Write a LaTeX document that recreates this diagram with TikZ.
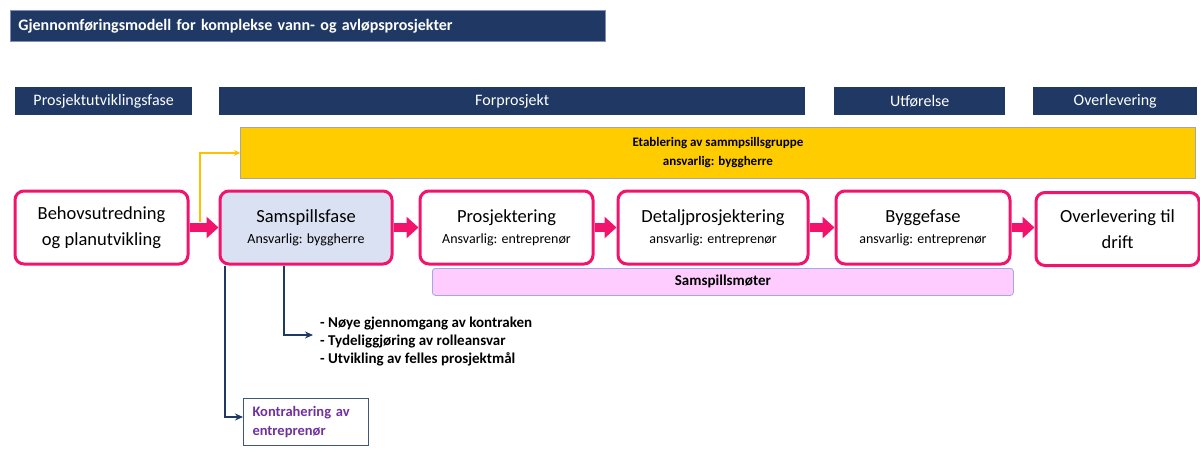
\documentclass[tikz,border=0pt]{standalone}
\usepackage{fontspec}
\setmainfont{Carlito}
\usetikzlibrary{arrows.meta,calc}
\definecolor{navy}{HTML}{203864}
\definecolor{navyedge}{HTML}{7F8FB8}
\definecolor{pinkc}{HTML}{F2146C}
\definecolor{lightblue}{HTML}{DAE1F3}
\definecolor{yellowc}{HTML}{FFCC00}
\definecolor{yellowline}{HTML}{FFC000}
\definecolor{meetfill}{HTML}{FFCCFF}
\definecolor{meetedge}{HTML}{A3A8E0}
\definecolor{purplet}{HTML}{7030A0}
\newcommand{\subtxt}{\fontsize{14}{16}\selectfont}
\begin{document}
\begin{tikzpicture}[x=1pt,y=-1pt,
  phase/.style={fill=navy, text=white, inner sep=0pt, minimum height=28pt, anchor=north west, font=\fontsize{16}{18}\selectfont},
  stepbox/.style={draw=pinkc, line width=3pt, rounded corners=9pt, fill=white, inner sep=0pt, minimum height=73pt, align=center, anchor=north west},
  twoline/.style={font=\fontsize{18.5}{26}\selectfont},
  titled/.style={font=\fontsize{18.5}{21}\selectfont},
  parrow/.style={draw=pinkc, line width=9pt, -{Triangle[width=21pt,length=12pt]}},
  narrow/.style={draw=navy, line width=2pt, -{Stealth[length=8pt,width=7pt]}},
  yarrow/.style={draw=yellowline, line width=1.5pt, -{Stealth[length=6pt,width=6pt]}}
]
\useasboundingbox (0,0) rectangle (1200,448);

% title
\node[fill=navy, draw=navyedge, line width=0.8pt, text=white, anchor=north west, minimum height=31pt,
      text width=579pt, inner xsep=8pt, inner ysep=0pt, align=left,
      font=\bfseries\fontsize{16}{18}\selectfont] (title) at (10,10)
  {Gjennomføringsmodell for komplekse vann- og avløpsprosjekter};

% phase headers
\node[phase, minimum width=177pt] (h1) at (15,87) {Prosjektutviklingsfase};
\node[phase, minimum width=586pt] (h2) at (219,87) {Forprosjekt};
\node[phase, minimum width=171pt] (h3) at (834,87) {Utførelse};
\node[phase, minimum width=164pt] (h4) at (1033,87) {Overlevering};

% yellow band
\node[fill=yellowc, draw=gray!70, line width=0.8pt, anchor=north west, minimum width=955pt, minimum height=51pt,
      inner sep=0pt, align=center, font=\bfseries\fontsize{13}{19}\selectfont] (etab) at (240,127)
  {Etablering av sammpsillsgruppe\\ansvarlig: byggherre};

% main steps
\node[stepbox, twoline, minimum width=173pt] (behov) at (13.5,189.5)
  {Behovsutredning\\og planutvikling};
\node[stepbox, titled, fill=lightblue, minimum width=172pt] (samspill) at (218.5,189.5)
  {Samspillsfase\\\subtxt Ansvarlig: byggherre};
\node[stepbox, titled, minimum width=173pt] (prosj) at (418.5,189.5)
  {Prosjektering\\\subtxt Ansvarlig: entreprenør};
\node[stepbox, titled, minimum width=190pt] (detalj) at (616.5,189.5)
  {Detaljprosjektering\\\subtxt ansvarlig: entreprenør};
\node[stepbox, titled, minimum width=174pt] (bygge) at (834.5,189.5)
  {Byggefase\\\subtxt ansvarlig: entreprenør};
\node[stepbox, twoline, minimum width=163pt] (overl) at (1034.5,191)
  {Overlevering til\\drift};

% meetings band
\node[fill=meetfill, draw=meetedge, line width=0.8pt, rounded corners=3pt, anchor=north west,
      minimum width=581pt, minimum height=27pt, inner sep=0pt,
      font=\bfseries\fontsize{15}{17}\selectfont] (moter) at (432,268) {Samspillsmøter};

% bullets
\node[anchor=west, align=left, inner sep=0pt, font=\bfseries\fontsize{15}{18}\selectfont] (bullets) at (320,342)
  {- Nøye gjennomgang av kontraken\\- Tydeliggjøring av rolleansvar\\- Utvikling av felles prosjektmål};

% contracting box
\node[draw=navy!85, line width=1pt, anchor=north west, text width=107pt, inner xsep=9pt, inner ysep=8pt,
      align=left, text=purplet, font=\bfseries\fontsize{14.5}{19}\selectfont] (kontra) at (243,398)
  {Kontrahering av\\entreprenør};

% pink flow arrows
\draw[parrow] (behov.east) -- (samspill.west);
\draw[parrow] (samspill.east) -- (prosj.west);
\draw[parrow] (prosj.east) -- (detalj.west);
\draw[parrow] (detalj.east) -- (bygge.west);
\draw[parrow] (bygge.east) -- (overl.west |- bygge.east);

% yellow arrow
\coordinate (ys) at (200,222);
\draw[yarrow] (ys) |- (etab.west);

% navy arrows
\coordinate (bt) at (313,335);
\draw[narrow] ($(samspill.south west)+(65,0)$) |- (bt);
\draw[narrow] ($(samspill.south west)+(6,0)$) |- ($(kontra.north west)+(0,19)$);
\end{tikzpicture}
\end{document}
